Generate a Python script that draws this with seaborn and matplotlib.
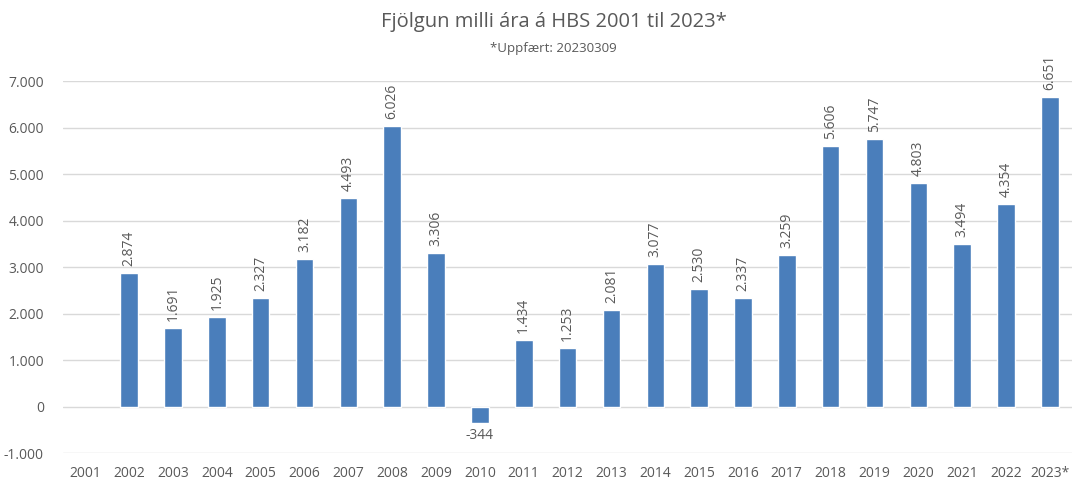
import matplotlib
matplotlib.use("Agg")
import matplotlib.pyplot as plt
import seaborn as sns
import pandas as pd

years = ["2001", "2002", "2003", "2004", "2005", "2006", "2007", "2008", "2009", "2010",
         "2011", "2012", "2013", "2014", "2015", "2016", "2017", "2018", "2019", "2020",
         "2021", "2022", "2023*"]
growth = [None, 2874, 1691, 1925, 2327, 3182, 4493, 6026, 3306, -344,
          1434, 1253, 2081, 3077, 2530, 2337, 3259, 5606, 5747, 4803,
          3494, 4354, 6651]
y_ticks = [-1000, 0, 1000, 2000, 3000, 4000, 5000, 6000, 7000]

sns.set_theme(style="white")
plt.rcParams["font.family"] = ["Open Sans", "DejaVu Sans"]

def fmt(v):
    return f"{v:,.0f}".replace(",", ".")

df = pd.DataFrame({"year": years, "growth": growth})
bar_color = "#4a7ebb"
text_color = "#595959"

fig = plt.figure(figsize=(10.75, 4.8), dpi=100)
ax = fig.add_axes([0.059, 0.056, 0.938, 0.775])

sns.barplot(data=df, x="year", y="growth", color=bar_color, width=0.4,
            saturation=1, ax=ax, order=years)

ax.set_ylim(-1000, 7000)
ax.set_yticks(y_ticks)
ax.set_yticklabels([fmt(t) for t in y_ticks])
ax.yaxis.grid(True, color="#d9d9d9", linewidth=1)
ax.set_axisbelow(True)
for s in ax.spines.values():
    s.set_visible(False)
ax.tick_params(axis="both", length=0, colors=text_color, labelsize=10)
ax.tick_params(axis="y", pad=14)
ax.tick_params(axis="x", pad=9)
ax.set_xlabel("")
ax.set_ylabel("")

for i, v in enumerate(growth):
    if v is None:
        continue
    if v >= 0:
        ax.text(i, v + 150, fmt(v), rotation=90, ha="center", va="bottom",
                fontsize=10, color=text_color, clip_on=False)
    else:
        ax.text(i, v - 120, fmt(v), ha="center", va="top",
                fontsize=10, color=text_color, clip_on=False)

fig.text(0.515, 0.955, "Fjölgun milli ára á HBS 2001 til 2023*", ha="center",
         va="center", fontsize=14.5, color=text_color)
fig.text(0.515, 0.898, "*Uppfært: 20230309", ha="center", va="center",
         fontsize=9.5, color=text_color)

fig.savefig("out.png", dpi=100)
